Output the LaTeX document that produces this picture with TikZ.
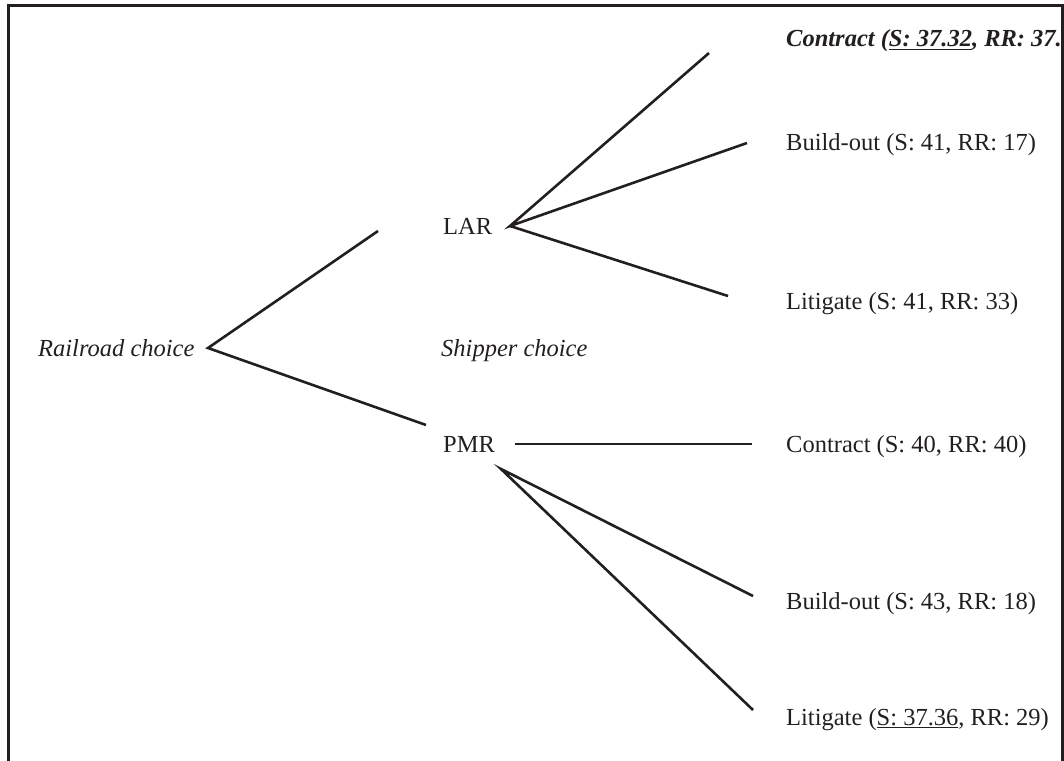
\documentclass[tikz,border=0pt]{standalone}
\usepackage{fontspec}
\setmainfont{Liberation Serif}
\definecolor{ink}{HTML}{231F20}
\begin{document}
\begin{tikzpicture}[x=1pt,y=-1pt,
  lbl/.style={anchor=base west, inner sep=0pt, font=\fontsize{24.5}{29}\selectfont, text=ink},
  branch/.style={line width=2.6pt, draw=ink},
  frameline/.style={line width=3pt, draw=ink}]
\useasboundingbox (0,0) rectangle (1064,760);
% vertices and free ends
\coordinate (rc) at (208,348);
\coordinate (rcU) at (378,231);
\coordinate (rcD) at (426,425);
\coordinate (lar) at (510,226);
\coordinate (larA) at (709,53);
\coordinate (larB) at (747,143);
\coordinate (larC) at (728,296);
\coordinate (pmrH1) at (515,444);
\coordinate (pmrH2) at (752,444);
\coordinate (pmr) at (501,469);
\coordinate (pmrB) at (753,596);
\coordinate (pmrC) at (753,710);
% branches
\draw[branch] (rcU) -- (rc) -- (rcD);
\draw[branch] (larA) -- (lar) -- (larB);
\draw[branch] (lar) -- (larC);
\draw[branch] (pmrH1) -- (pmrH2);
\draw[branch] (pmrB) -- (pmr) -- (pmrC);
% labels
\node[lbl] (trc) at (38,356) {\itshape Railroad choice};
\node[lbl] (tsc) at (441,356) {\itshape Shipper choice};
\node[lbl] (tlar) at (443,234) {LAR};
\node[lbl] (tpmr) at (443,452) {PMR};
\begin{scope}
\clip (0,0) rectangle (1062,760);
\node[lbl] (t1) at (786,47) {\bfseries\itshape Contract (\underline{S: 37.32}, RR: 37.34)};
\end{scope}
\node[lbl] (t2) at (786,150) {Build-out (S: 41, RR: 17)};
\node[lbl] (t3) at (786,309) {Litigate (S: 41, RR: 33)};
\node[lbl] (t4) at (786,452) {Contract (S: 40, RR: 40)};
\node[lbl] (t5) at (786,609) {Build-out (S: 43, RR: 18)};
\node[lbl] (t6) at (786,725) {Litigate (\underline{S: 37.36}, RR: 29)};
% frame (open at bottom)
\draw[frameline] (8.5,762) -- (8.5,5.5) -- (1062.5,5.5) -- (1062.5,762);
\end{tikzpicture}
\end{document}
